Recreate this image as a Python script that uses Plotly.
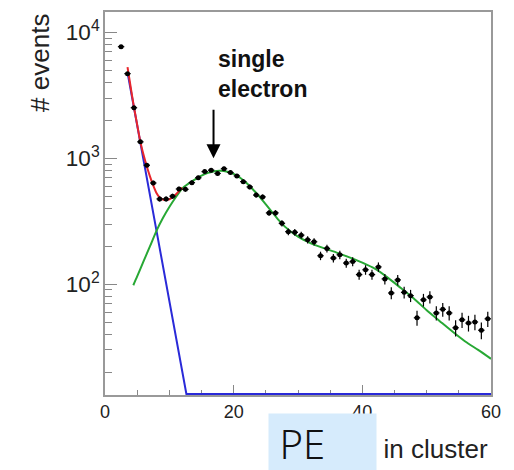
import numpy as np
import plotly.graph_objects as go

# ---- data ----
bin_centers = [2.5 + i for i in range(58)]
counts = [7700, 4700, 2520, 1350, 880, 636, 475, 475, 500, 570,
          566, 640, 700, 783, 804, 757, 826, 770, 724, 652,
          592, 510, 493, 368, 368, 304, 261, 258, 245, 225,
          217, 168, 192, 161, 171, 147, 151, 119, 130, 119,
          137, 110, 85, 108, 86, 81, 54, 75, 79, 59,
          63, 59, 45, 52, 49, 50, 43, 53]

red_x = [3.5, 4, 4.5, 5, 5.5, 6, 6.5, 7, 7.5, 8, 8.5, 9, 9.5, 10, 10.5, 11, 11.5, 12]
red_y = [5300, 3650, 2550, 1850, 1350, 1060, 860, 715, 608, 530, 488, 470, 466, 472, 490, 515, 548, 585]

green_x = [4.4, 5, 6, 7, 8, 9, 10, 11, 12, 13, 14, 15, 16, 17, 18, 19, 20, 21, 22, 23, 24, 25, 26,
           27, 28, 30, 32, 34, 36, 38, 40, 42, 44, 46, 48, 50, 52, 54, 56, 58, 60]
green_y = [98, 115, 152, 200, 265, 335, 410, 490, 575, 630, 680, 728, 765, 790, 795, 782, 752, 700,
           635, 565, 495, 430, 372, 322, 285, 238, 211, 193, 178, 163, 148, 132, 112, 93, 77, 62, 51,
           42, 35, 30, 25.5]

blue_x = [3.5, 12.65, 60]
blue_y = [4800, 13.4, 13.4]

x_ticks = [0, 20, 40, 60]

fig = go.Figure()

fig.add_trace(go.Scatter(x=blue_x, y=blue_y, mode="lines",
                         line=dict(color="#2a2ad8", width=2), showlegend=False))
fig.add_trace(go.Scatter(x=green_x, y=green_y, mode="lines",
                         line=dict(color="#27a834", width=2, shape="spline", smoothing=0.7),
                         showlegend=False))
fig.add_trace(go.Scatter(x=red_x, y=red_y, mode="lines",
                         line=dict(color="#e8262c", width=2, shape="spline", smoothing=0.7),
                         showlegend=False))
fig.add_trace(go.Scatter(
    x=bin_centers, y=counts, mode="markers",
    marker=dict(color="black", size=5),
    error_y=dict(type="data", array=list(np.sqrt(counts)), color="black", thickness=1.2, width=0),
    error_x=dict(type="constant", value=0.5, color="black", thickness=1.2, width=0),
    showlegend=False))

font_main = "Liberation Sans, Arial, Helvetica, sans-serif"

fig.update_layout(
    width=514, height=470,
    margin=dict(l=105, r=23, t=10, b=75),
    paper_bgcolor="white", plot_bgcolor="white",
    font=dict(family=font_main, color="#222222"),
    xaxis=dict(range=[0, 60], tickvals=x_ticks, ticks="inside", ticklen=10, tickwidth=1,
               tickcolor="#888888", showline=True, linecolor="#999999", linewidth=1.5,
               mirror=True, showgrid=False, zeroline=False, layer="below traces",
               tickfont=dict(size=18, color="#222222"),
               minor=dict(dtick=5, ticks="inside", ticklen=5, tickcolor="#888888")),
    yaxis=dict(type="log", range=[1.119, 4.162], dtick=1, exponentformat="power",
               ticks="inside", ticklen=12, tickwidth=1, tickcolor="#888888",
               showline=True, linecolor="#999999", linewidth=1.5, mirror=True,
               showgrid=False, zeroline=False, layer="below traces",
               tickfont=dict(size=18, color="#222222"),
               minor=dict(dtick="D1", ticks="inside", ticklen=7, tickcolor="#888888")),
)

# y axis title
fig.add_annotation(text="# events", xref="paper", yref="paper", x=-0.168, y=0.8675,
                   textangle=-90, showarrow=False, xanchor="center", yanchor="middle",
                   font=dict(size=26, color="#222222", family=font_main))
# x axis title
fig.add_annotation(text="# PEs in cluster", xref="paper", yref="paper", x=0.997, y=-0.14,
                   showarrow=False, xanchor="right", yanchor="middle",
                   font=dict(size=26, color="#222222", family=font_main))
# overlay box
fig.add_annotation(text="&nbsp;PE", xref="paper", yref="paper", x=0.4223, y=-0.046,
                   xanchor="left", yanchor="top", showarrow=False, align="left",
                   width=107, height=58, borderpad=0, bgcolor="#d6ebfc",
                   font=dict(size=40, color="#111111", family="Noto Sans", weight=300))
# arrow
fig.add_annotation(x=16.87, y=3.0, xref="x", yref="y", ax=0, ay=-50, text="",
                   showarrow=True, arrowhead=2, arrowsize=1.4, arrowwidth=2, arrowcolor="black")
# label
fig.add_annotation(text="<b>single<br>electron</b>", x=17.25, y=3.672, xref="x", yref="y",
                   xanchor="left", yanchor="middle", align="left", showarrow=False,
                   font=dict(size=23, color="#111111", family=font_main))

fig.write_html("out.html")
